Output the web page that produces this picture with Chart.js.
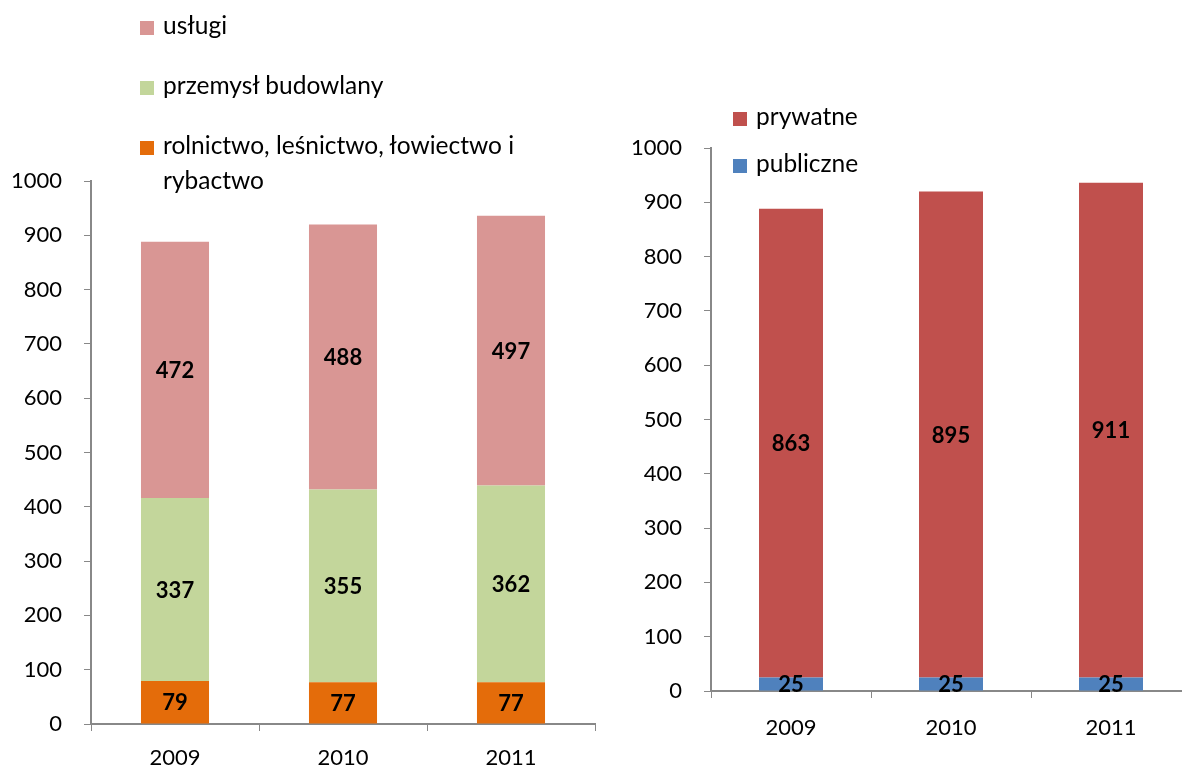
<!DOCTYPE html>
<html>
<head>
<meta charset="utf-8">
<script src="https://cdn.jsdelivr.net/npm/chart.js@4.4.1/dist/chart.umd.min.js"></script>
<style>
  html, body { margin: 0; padding: 0; background: #fff; overflow: hidden; width: 1182px; height: 767px; }
  .box { position: absolute; top: 0; width: 600px; height: 767px; }
  .legend { position: absolute; font-family: Lato, sans-serif; font-size: 24.5px; color: #000; }
  .legend .item { display: flex; align-items: flex-start; position: absolute; left: 0; white-space: normal; }
  .legend .sw { width: 14px; height: 14px; margin-top: 7px; margin-right: 9px; flex: none; }
  .legend .txt { line-height: 35px; margin-top: -7px; }
</style>
</head>
<body>
<div class="box" style="left:0"><canvas id="left"></canvas></div>
<div class="box" style="left:600px"><canvas id="right"></canvas></div>
<div class="legend" id="legLeft" style="left:140px; top:0px;"></div>
<div class="legend" id="legRight" style="left:733px; top:0px;"></div>
<script>
const years = ['2009', '2010', '2011'];

// left chart - sektory
const rolnictwo = [79, 77, 77];
const budownictwo = [337, 355, 362];
const uslugi = [472, 488, 497];

// right chart - sektor własności
const publiczne = [25, 25, 25];
const prywatne = [863, 895, 911];

const yTicks = [0, 100, 200, 300, 400, 500, 600, 700, 800, 900, 1000];

const font = { family: 'Lato, sans-serif', size: 22 };

const valueLabels = {
  id: 'valueLabels',
  afterDatasetsDraw(chart) {
    const ctx = chart.ctx;
    ctx.save();
    ctx.font = 'bold 22px Lato, sans-serif';
    ctx.fillStyle = '#000';
    ctx.textAlign = 'center';
    ctx.textBaseline = 'middle';
    chart.data.datasets.forEach((ds, i) => {
      chart.getDatasetMeta(i).data.forEach((bar, j) => {
        ctx.fillText(ds.data[j], bar.x, (bar.y + bar.base) / 2 + 1);
      });
    });
    ctx.restore();
  }
};

function makeChart(id, datasets, opts) {
  const canvas = document.getElementById(id);
  canvas.width = 600;
  canvas.height = 767;
  return new Chart(canvas, {
    type: 'bar',
    data: { labels: years, datasets: datasets },
    options: {
      responsive: false,
      animation: false,
      layout: { padding: { top: opts.top, right: opts.right, bottom: 0, left: 0 } },
      plugins: { legend: { display: false }, tooltip: { enabled: false } },
      scales: {
        x: {
          stacked: true,
          grid: { display: true, drawOnChartArea: false, drawTicks: true, tickLength: 7, color: '#888', offset: true },
          border: { color: '#888', width: 2 },
          ticks: { color: '#000', font: font, padding: opts.xPad },
          afterFit(scale) { scale.height = opts.xHeight; }
        },
        y: {
          stacked: true,
          min: 0,
          max: 1000,
          afterBuildTicks(scale) { scale.ticks = yTicks.map(v => ({ value: v })); },
          grid: { display: true, drawOnChartArea: false, drawTicks: true, tickLength: 7, color: '#888' },
          border: { color: '#888', width: 2 },
          ticks: { color: '#000', font: font, padding: 22, callback: v => String(v) },
          afterFit(scale) { scale.width = opts.yWidth; }
        }
      }
    },
    plugins: [valueLabels]
  });
}

const leftSets = [
  { label: 'rolnictwo, leśnictwo, łowiectwo i rybactwo', data: rolnictwo, backgroundColor: '#E46C0A' },
  { label: 'przemysł budowlany', data: budownictwo, backgroundColor: '#C3D69B' },
  { label: 'usługi', data: uslugi, backgroundColor: '#D99694' }
].map(d => Object.assign(d, { barPercentage: 0.405, categoryPercentage: 1 }));

const rightSets = [
  { label: 'publiczne', data: publiczne, backgroundColor: '#4F81BD' },
  { label: 'prywatne', data: prywatne, backgroundColor: '#C0504D' }
].map(d => Object.assign(d, { barPercentage: 0.4, categoryPercentage: 1 }));

makeChart('left', leftSets, { top: 181, right: 5, xHeight: 43, xPad: 14, yWidth: 91 });
makeChart('right', rightSets, { top: 148, right: 9, xHeight: 76, xPad: 17, yWidth: 111 });

function buildLegend(el, sets, tops, width) {
  sets.slice().reverse().forEach((ds, i) => {
    const item = document.createElement('div');
    item.className = 'item';
    item.style.top = tops[i] + 'px';
    item.style.width = width + 'px';
    item.innerHTML = '<span class="sw" style="background:' + ds.backgroundColor + '"></span><span class="txt">' + ds.label + '</span>';
    el.appendChild(item);
  });
}
buildLegend(document.getElementById('legLeft'), leftSets, [14, 74, 134], 400);
buildLegend(document.getElementById('legRight'), rightSets, [105, 152], 200);
</script>
</body>
</html>
